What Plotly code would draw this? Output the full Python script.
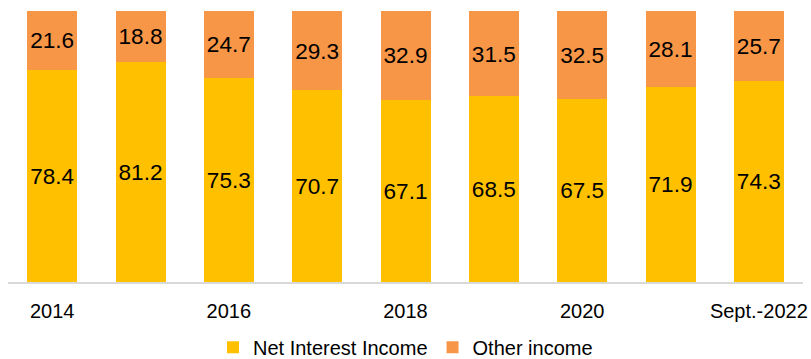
import plotly.graph_objects as go

# Income composition (% of total), by year
years = ["2014", "2015", "2016", "2017", "2018", "2019", "2020", "2021", "Sept.-2022"]
net_interest = [78.4, 81.2, 75.3, 70.7, 67.1, 68.5, 67.5, 71.9, 74.3]
other_income = [21.6, 18.8, 24.7, 29.3, 32.9, 31.5, 32.5, 28.1, 25.7]
shown_ticks = ["2014", "2016", "2018", "2020", "Sept.-2022"]

FONT = "Liberation Sans, Arial, sans-serif"

fig = go.Figure()
fig.add_trace(go.Bar(
    x=years, y=net_interest, name="Net Interest Income",
    marker=dict(color="#FFC000", line=dict(width=0)),
    text=[f"{v:.1f}" for v in net_interest], textposition="inside",
    insidetextanchor="middle", textangle=0,
    textfont=dict(size=23, color="black", family=FONT),
))
fig.add_trace(go.Bar(
    x=years, y=other_income, name="Other income",
    marker=dict(color="#F79646", line=dict(width=0)),
    text=[f"{v:.1f}" for v in other_income], textposition="inside",
    insidetextanchor="middle", textangle=0,
    textfont=dict(size=23, color="black", family=FONT),
))

fig.update_layout(
    width=811, height=359,
    barmode="stack", bargap=0.434,
    uniformtext=dict(mode=False),
    margin=dict(l=8, r=8, t=11, b=77, autoexpand=False),
    paper_bgcolor="white", plot_bgcolor="white",
    font=dict(family=FONT, size=20, color="black"),
    showlegend=True,
    legend=dict(orientation="h", x=0.5, xanchor="center", xref="container",
                y=0.033, yanchor="middle", yref="container",
                traceorder="normal", font=dict(size=20), itemwidth=30),
    xaxis=dict(type="category", tickmode="array", tickvals=shown_ticks, ticktext=shown_ticks,
               showline=True, linecolor="#d9d9d9", linewidth=2, ticks="",
               ticklabelstandoff=10, tickfont=dict(size=20), showgrid=False,
               automargin=False),
    yaxis=dict(range=[0, 100], visible=False, showgrid=False, automargin=False),
)

fig.write_html("out.html")
